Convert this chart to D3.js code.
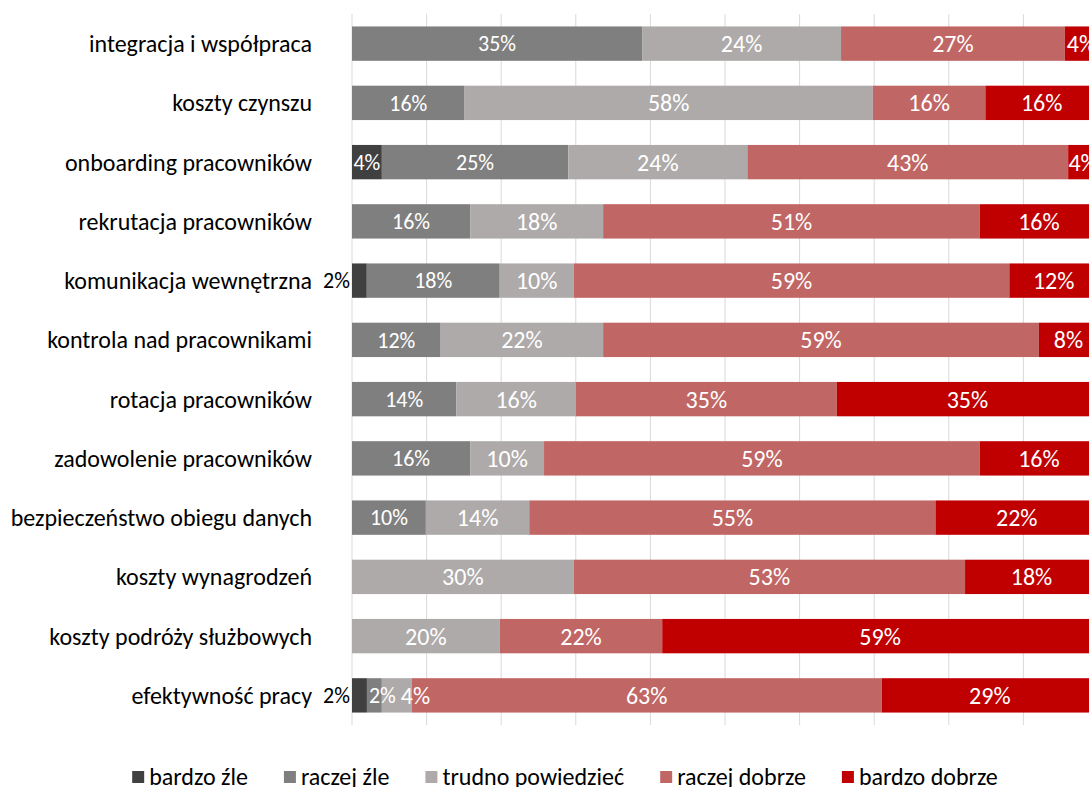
<!DOCTYPE html>
<html lang="pl">
<head>
<meta charset="utf-8">
<script src="https://cdn.jsdelivr.net/npm/d3@7"></script>
<style>
  html, body { margin: 0; padding: 0; background: #fff; }
  svg { display: block; font-family: Carlito, "Open Sans", sans-serif; }
</style>
</head>
<body>
<svg id="chart" width="1089" height="787"></svg>
<script>
// Categories (top to bottom)
const categories = [
  "integracja i współpraca",
  "koszty czynszu",
  "onboarding pracowników",
  "rekrutacja pracowników",
  "komunikacja wewnętrzna",
  "kontrola nad pracownikami",
  "rotacja pracowników",
  "zadowolenie pracowników",
  "bezpieczeństwo obiegu danych",
  "koszty wynagrodzeń",
  "koszty podróży służbowych",
  "efektywność pracy"
];

// Answer series (percent of respondents)
const seriesNames = ["bardzo źle", "raczej źle", "trudno powiedzieć", "raczej dobrze", "bardzo dobrze"];
const bardzoZle    = [0, 0, 4, 0, 2, 0, 0, 0, 0, 0, 0, 2];
const raczejZle    = [35, 16, 25, 16, 18, 12, 14, 16, 10, 0, 0, 2];
const trudno       = [24, 58, 24, 18, 10, 22, 16, 10, 14, 30, 20, 4];
const raczejDobrze = [27, 16, 43, 51, 59, 59, 35, 59, 55, 53, 22, 63];
const bardzoDobrze = [4, 16, 4, 16, 12, 8, 35, 16, 22, 18, 59, 29];

const seriesColors = ["#404040", "#7f7f7f", "#aeaaaa", "#c06664", "#c00000"];

// Rows for the stack layout
const seriesValues = [bardzoZle, raczejZle, trudno, raczejDobrze, bardzoDobrze];
const rows = categories.map((c, i) => {
  const r = { category: c };
  seriesNames.forEach((s, k) => { r[s] = seriesValues[k][i]; });
  return r;
});

const stacked = d3.stack()
  .keys(seriesNames)
  .offset(d3.stackOffsetExpand)(rows);

const svg = d3.select("#chart");
const plot = { left: 352, right: 1098, top: 14, bottom: 725 };

const x = d3.scaleLinear().domain([0, 1]).range([plot.left, plot.right]);
const y = d3.scaleBand().domain(categories).range([plot.top, plot.bottom]).paddingInner(0.42).paddingOuter(0.21);

// Vertical gridlines
svg.append("g")
  .selectAll("line")
  .data(x.ticks(10))
  .join("line")
  .attr("x1", d => x(d)).attr("x2", d => x(d))
  .attr("y1", plot.top).attr("y2", plot.bottom)
  .attr("stroke", "#d9d9d9")
  .attr("stroke-width", 1);

// Category labels
svg.append("g")
  .selectAll("text")
  .data(categories)
  .join("text")
  .attr("x", 312)
  .attr("y", d => y(d) + y.bandwidth() / 2)
  .attr("dy", "0.35em")
  .attr("text-anchor", "end")
  .attr("font-size", 24)
  .attr("fill", "#000")
  .text(d => d);

// Bars
const layers = svg.append("g")
  .selectAll("g")
  .data(stacked)
  .join("g")
  .attr("fill", (d, i) => seriesColors[i]);

layers.selectAll("rect")
  .data(d => d.filter(p => p.data[d.key] > 0))
  .join("rect")
  .attr("x", d => x(d[0]))
  .attr("width", d => x(d[1]) - x(d[0]))
  .attr("y", d => y(d.data.category))
  .attr("height", y.bandwidth());

// Value labels, placed row by row so narrow segments don't collide
const labelSize = [22, 22, 24, 24, 24];
const labelLayer = svg.append("g");
categories.forEach((cat, i) => {
  let prevRight = -Infinity;
  stacked.forEach((layer, k) => {
    const d = layer[i];
    const v = d.data[layer.key];
    if (!(v > 0)) return;
    const x0 = x(d[0]), x1 = x(d[1]);
    const outside = k === 0 && v < 3;
    const t = labelLayer.append("text")
      .attr("y", y(cat) + y.bandwidth() / 2)
      .attr("dy", "0.35em")
      .attr("font-size", labelSize[k])
      .attr("text-anchor", "start")
      .attr("fill", outside ? "#000" : "#fff")
      .text(v + "%");
    const w = t.node().getComputedTextLength();
    let left;
    if (outside) {
      left = plot.left - 2 - w;
    } else if (w > x1 - x0) {
      left = Math.max(x0 + 2, prevRight + 5);
    } else {
      left = (x0 + x1) / 2 - w / 2;
      if (left < prevRight + 5) left = prevRight + 5;
    }
    t.attr("x", left);
    prevRight = outside ? plot.left : left + w;
  });
});

// Legend
const legend = svg.append("g").attr("transform", "translate(0,777)");
const legendItems = legend.selectAll("g")
  .data(seriesNames)
  .join("g");
legendItems.append("rect")
  .attr("x", 0).attr("y", -6)
  .attr("width", 12).attr("height", 12)
  .attr("fill", (d, i) => seriesColors[i]);
legendItems.append("text")
  .attr("x", 17)
  .attr("dy", "0.35em")
  .attr("font-size", 24)
  .attr("fill", "#000")
  .text(d => d);

let cursor = 0;
const gap = 36;
legendItems.each(function () {
  const w = 17 + d3.select(this).select("text").node().getComputedTextLength();
  d3.select(this).attr("data-x", cursor);
  cursor += w + gap;
});
const totalW = cursor - gap;
const startX = 565 - totalW / 2;
legendItems.attr("transform", function () {
  return `translate(${startX + (+d3.select(this).attr("data-x"))},0)`;
});
</script>
</body>
</html>
